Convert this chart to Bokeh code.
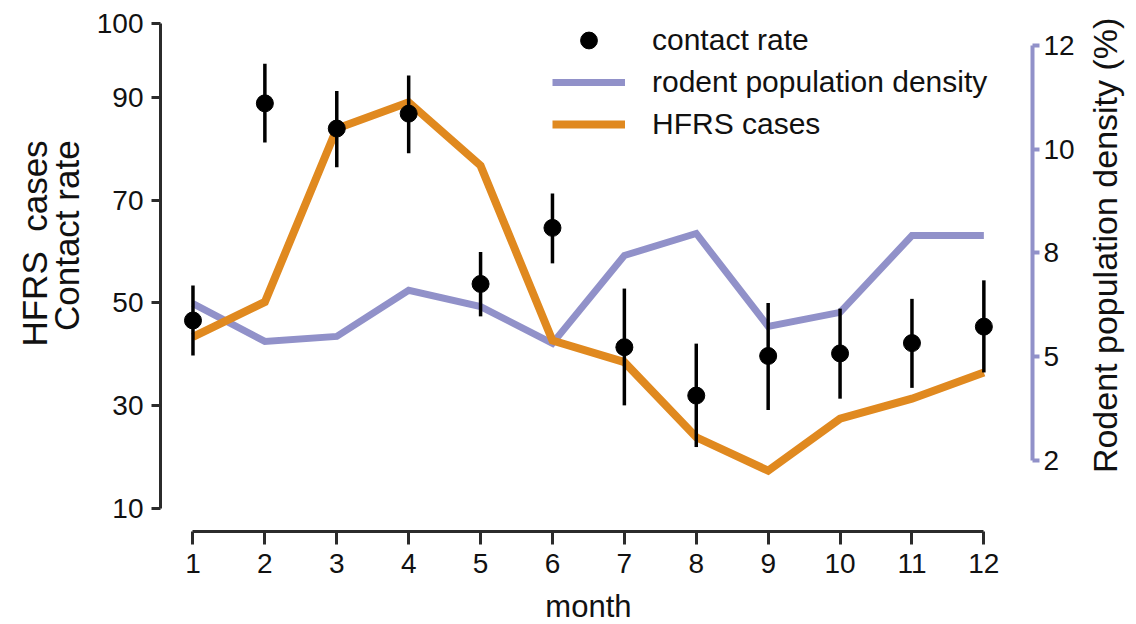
import math
from bokeh.plotting import figure
from bokeh.models import Range1d, LinearAxis, FixedTicker, Legend, LegendItem, Label
from bokeh.embed import file_html
from bokeh.resources import INLINE

# ---------------- data ----------------
months = [1, 2, 3, 4, 5, 6, 7, 8, 9, 10, 11, 12]
contact_rate = [46.6, 88.8, 83.9, 86.8, 53.7, 64.6, 41.4, 32.0, 39.7, 40.2, 42.2, 45.4]
contact_upper = [53.4, 96.5, 91.2, 94.2, 59.9, 71.3, 52.8, 42.1, 50.0, 48.9, 50.8, 54.4]
contact_lower = [39.8, 81.2, 76.4, 79.1, 47.4, 57.7, 30.1, 22.0, 29.2, 31.4, 33.5, 36.5]
hfrs_cases = [43.4, 50.2, 83.9, 89.0, 76.7, 42.7, 38.5, 23.9, 17.4, 27.5, 31.4, 36.5]
# rodent density, in the (evenly spaced) units of the right axis
rodent_density = [5.78, 4.87, 4.99, 6.10, 5.71, 4.82, 6.94, 7.47, 5.23, 5.57, 7.42, 7.42]

left_ticks = [10, 30, 50, 70, 90, 104.4]
left_tick_labels = ["10", "30", "50", "70", "90", "100"]
right_ticks = [2, 4.5, 7, 9.5, 12]
right_tick_labels = ["2", "5", "8", "10", "12"]

FONT = "Liberation Sans"
ORANGE = "#E0891F"
LAV = "#9191C9"
AXIS = "#2b2b2b"
TXT = "#111111"

# the frame covers the whole canvas; axes are drawn at fixed locations
p = figure(width=1136, height=624, output_backend="svg", toolbar_location=None,
           x_range=Range1d(-1.677, 14.123), y_range=Range1d(-12.49, 108.79),
           min_border=0, min_border_left=0, min_border_right=0, min_border_top=0,
           min_border_bottom=0, outline_line_color=None, background_fill_color="white")
p.extra_y_ranges = {"rodent": Range1d(-1.952, 13.084)}
p.grid.visible = False

# x axis
xa = p.xaxis[0]
xa.fixed_location = 5.588
xa.ticker = FixedTicker(ticks=months)
xa.bounds = (1, 12)
xa.axis_line_width = 3
xa.axis_line_color = AXIS
xa.major_tick_line_width = 3
xa.major_tick_line_color = AXIS
xa.major_tick_out = 13
xa.major_tick_in = 0
xa.minor_tick_line_color = None
xa.major_label_text_font = FONT
xa.major_label_text_font_size = "28px"
xa.major_label_text_color = TXT
xa.major_label_standoff = 10

# left axis
ya = p.yaxis[0]
ya.fixed_location = 0.548
ya.ticker = FixedTicker(ticks=left_ticks)
ya.major_label_overrides = dict(zip(left_ticks, left_tick_labels))
ya.bounds = (10, 104.4)
ya.axis_line_width = 3
ya.axis_line_color = AXIS
ya.major_tick_line_width = 3
ya.major_tick_line_color = AXIS
ya.major_tick_out = 9
ya.major_tick_in = 0
ya.minor_tick_line_color = None
ya.major_label_text_font = FONT
ya.major_label_text_font_size = "28px"
ya.major_label_text_color = TXT
ya.major_label_standoff = 8

# right axis
ra = LinearAxis(y_range_name="rodent", ticker=FixedTicker(ticks=right_ticks), bounds=(2, 12),
                fixed_location=12.676)
ra.major_label_overrides = dict(zip(right_ticks, right_tick_labels))
ra.axis_line_width = 4
ra.axis_line_color = LAV
ra.major_tick_line_width = 4
ra.major_tick_line_color = LAV
ra.major_tick_out = 7
ra.major_tick_in = 0
ra.minor_tick_line_color = None
ra.major_label_text_font = FONT
ra.major_label_text_font_size = "28px"
ra.major_label_text_color = TXT
ra.major_label_standoff = 4
p.add_layout(ra, "right")

# glyphs
r_rod = p.line(months, rodent_density, y_range_name="rodent", line_color=LAV,
               line_width=7, line_join="miter")
r_hfrs = p.line(months, hfrs_cases, line_color=ORANGE, line_width=8, line_join="miter")
p.segment(x0=months, y0=contact_lower, x1=months, y1=contact_upper,
          line_color="black", line_width=3.5)
r_cr = p.scatter(months, contact_rate, size=17, color="black")

legend = Legend(items=[LegendItem(label="contact rate", renderers=[r_cr]),
                       LegendItem(label="rodent population density", renderers=[r_rod]),
                       LegendItem(label="HFRS cases", renderers=[r_hfrs])],
                location=(552, 479), glyph_width=73, glyph_height=42, label_standoff=27,
                spacing=0, padding=0, margin=0, border_line_alpha=0,
                background_fill_alpha=0, label_text_font=FONT,
                label_text_font_size="30px", label_text_color=TXT)
p.add_layout(legend)

# axis titles
p.add_layout(Label(x=-1.205, y=81.6, text="HFRS\u00a0\u00a0cases", angle=math.pi / 2,
                   text_align="right", text_baseline="alphabetic", text_font=FONT,
                   text_font_size="35px", text_color=TXT))
p.add_layout(Label(x=-0.76, y=81.6, text="Contact rate", angle=math.pi / 2,
                   text_align="right", text_baseline="alphabetic", text_font=FONT,
                   text_font_size="35px", text_color=TXT))
p.add_layout(Label(x=13.69, y=61.2, text="Rodent population density (%)", angle=math.pi / 2,
                   text_align="center", text_baseline="alphabetic", text_font=FONT,
                   text_font_size="34px", text_color=TXT))
p.add_layout(Label(x=6.5, y=-8.9, text="month", text_align="center",
                   text_baseline="alphabetic", text_font=FONT,
                   text_font_size="31px", text_color=TXT))

open("out.html", "w").write(file_html(p, INLINE))
